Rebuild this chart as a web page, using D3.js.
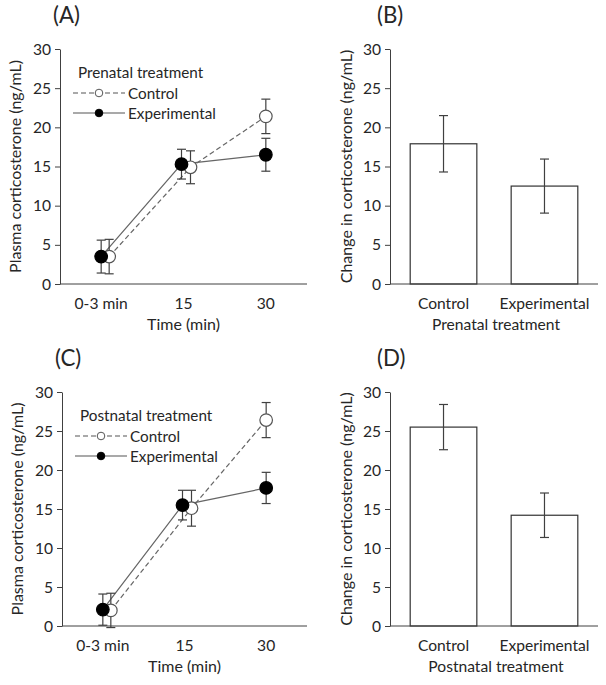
<!DOCTYPE html>
<html><head><meta charset="utf-8">
<script src="https://cdn.jsdelivr.net/npm/d3@7"></script>
<style>
html,body{margin:0;padding:0;background:#fff;}
svg text{font-family:Lato,"Open Sans",sans-serif;fill:#262626;}
</style></head>
<body>
<svg id="c" width="606" height="685"></svg>
<script>
// ---- data ----
const timeCategories = ["0-3 min", "15", "30"];
const prenatalControl = [3.5, 14.9, 21.4];
const prenatalControlErr = [2.2, 2.1, 2.2];
const prenatalExp = [3.5, 15.3, 16.5];
const prenatalExpErr = [2.1, 1.9, 2.1];
const postnatalControl = [2.0, 15.1, 26.4];
const postnatalControlErr = [2.2, 2.3, 2.25];
const postnatalExp = [2.1, 15.5, 17.7];
const postnatalExpErr = [2.0, 1.9, 2.0];
const groupCategories = ["Control", "Experimental"];
const prenatalChange = [17.9, 12.5];
const prenatalChangeErr = [3.6, 3.45];
const postnatalChange = [25.5, 14.2];
const postnatalChangeErr = [2.9, 2.85];
const yTicks = [0, 5, 10, 15, 20, 25, 30];

const svg = d3.select("#c");
const AX = "#404040";

function fitSize(str, target, base) {
  const t = svg.append("text").attr("font-size", base).text(str);
  const w = t.node().getComputedTextLength();
  t.remove();
  return base * target / w;
}
const fsLeg = fitSize("Experimental", 88, 14);
const fsTitle = fitSize("Plasma corticosterone (ng/mL)", 213, 14);
const fsCat = fitSize("Experimental", 90, 14);
const fsXT = fitSize("Time (min)", 73, 14);
const fsTick = fsCat;
const fsPanel = fitSize("(A)", 27, 18);

function yAxis(g, y) {
  const ax = g.append("g").attr("transform", `translate(${y.x0},0)`)
    .call(d3.axisLeft(y).tickValues(yTicks).tickSize(5).tickPadding(4).tickSizeOuter(0));
  ax.select(".domain").attr("stroke", AX);
  ax.selectAll(".tick line").attr("stroke", AX);
  ax.selectAll(".tick text").attr("font-size", fsTick).attr("fill", "#262626")
    .attr("font-family", "Lato,'Open Sans',sans-serif");
}

function linePanel(opt) {
  const g = svg.append("g");
  const x = d3.scaleBand().domain(timeCategories).range([opt.x0, opt.x1]);
  const y = d3.scaleLinear().domain([0, 30]).range([opt.yb, opt.yt]);
  y.x0 = opt.x0;
  yAxis(g, y);
  g.append("line").attr("x1", opt.x0).attr("x2", opt.x1).attr("y1", opt.yb).attr("y2", opt.yb).attr("stroke", AX);
  g.selectAll(".xl").data(timeCategories).join("text")
    .attr("x", d => x(d) + x.bandwidth() / 2).attr("y", opt.yb + 25)
    .attr("text-anchor", "middle").attr("font-size", fsTick).text(d => d);
  g.append("text").attr("x", x("15") + x.bandwidth() / 2).attr("y", opt.yb + 46)
    .attr("text-anchor", "middle").attr("font-size", fsXT).text("Time (min)");
  g.append("text").attr("transform", `translate(${opt.x0 - 46},${(opt.yb + opt.yt) / 2}) rotate(-90)`)
    .attr("text-anchor", "middle").attr("dominant-baseline", "central").attr("font-size", fsTitle)
    .text("Plasma corticosterone (ng/mL)");
  g.append("text").attr("x", opt.x0 - 7).attr("y", opt.yt - 26).attr("font-size", fsPanel).text(opt.label);

  const dodgeC = [8, 7, 0], dodgeE = [0, -2, 0];
  const cx = (i, d) => x(timeCategories[i]) + x.bandwidth() / 2 + d[i];
  const series = [
    {v: opt.ctrl, e: opt.ctrlErr, dodge: dodgeC, dash: "5,3", fill: "#fff"},
    {v: opt.exp, e: opt.expErr, dodge: dodgeE, dash: null, fill: "#000"}
  ];
  series.forEach(s => {
    const pts = s.v.map((v, i) => [cx(i, s.dodge), y(v)]);
    g.append("path").attr("d", d3.line()(pts)).attr("fill", "none").attr("stroke", "#666")
      .attr("stroke-width", 1.2).attr("stroke-dasharray", s.dash);
  });
  series.forEach(s => {
    s.v.forEach((v, i) => {
      const xx = cx(i, s.dodge), lo = y(v - s.e[i]), hi = y(v + s.e[i]);
      const eg = g.append("g").attr("stroke", AX).attr("stroke-width", 1.2);
      eg.append("line").attr("x1", xx).attr("x2", xx).attr("y1", lo).attr("y2", hi);
      eg.append("line").attr("x1", xx - 4.5).attr("x2", xx + 4.5).attr("y1", lo).attr("y2", lo);
      eg.append("line").attr("x1", xx - 4.5).attr("x2", xx + 4.5).attr("y1", hi).attr("y2", hi);
      g.append("circle").attr("cx", xx).attr("cy", y(v)).attr("r", 6.3)
        .attr("fill", s.fill).attr("stroke", s.fill === "#000" ? "#000" : "#555").attr("stroke-width", 1.2);
    });
  });
  // legend
  const lx = opt.x0 + 18, ly = opt.yt + 23;
  g.append("text").attr("x", lx).attr("y", ly).attr("dominant-baseline", "central")
    .attr("font-size", fsLeg).text(opt.legTitle);
  [["Control", "5,3", "#fff", 21], ["Experimental", null, "#000", 41]].forEach(([t, dash, fill, dy]) => {
    g.append("line").attr("x1", lx - 5).attr("x2", lx + 47).attr("y1", ly + dy).attr("y2", ly + dy)
      .attr("stroke", "#555").attr("stroke-width", 1.2).attr("stroke-dasharray", dash);
    g.append("circle").attr("cx", lx + 21).attr("cy", ly + dy).attr("r", 3.8)
      .attr("fill", fill).attr("stroke", fill === "#000" ? "#000" : "#555").attr("stroke-width", 1);
    g.append("text").attr("x", lx + 50).attr("y", ly + dy).attr("dominant-baseline", "central")
      .attr("font-size", fsLeg).text(t);
  });
}

function barPanel(opt) {
  const g = svg.append("g");
  const x = d3.scaleBand().domain(groupCategories).range([opt.x0, opt.x1]).paddingInner(0.34).paddingOuter(0.2);
  const y = d3.scaleLinear().domain([0, 30]).range([opt.yb, opt.yt]);
  y.x0 = opt.x0;
  g.selectAll("rect").data(opt.vals).join("rect")
    .attr("x", (d, i) => x(groupCategories[i])).attr("width", x.bandwidth())
    .attr("y", d => y(d)).attr("height", d => y(0) - y(d))
    .attr("fill", "#fff").attr("stroke", "#333").attr("stroke-width", 1.2);
  opt.vals.forEach((v, i) => {
    const xx = x(groupCategories[i]) + x.bandwidth() / 2, lo = y(v - opt.errs[i]), hi = y(v + opt.errs[i]);
    const eg = g.append("g").attr("stroke", AX).attr("stroke-width", 1.2);
    eg.append("line").attr("x1", xx).attr("x2", xx).attr("y1", lo).attr("y2", hi);
    eg.append("line").attr("x1", xx - 4.5).attr("x2", xx + 4.5).attr("y1", lo).attr("y2", lo);
    eg.append("line").attr("x1", xx - 4.5).attr("x2", xx + 4.5).attr("y1", hi).attr("y2", hi);
  });
  yAxis(g, y);
  g.append("line").attr("x1", opt.x0).attr("x2", opt.x1).attr("y1", opt.yb).attr("y2", opt.yb).attr("stroke", AX);
  g.selectAll(".xl").data(groupCategories).join("text")
    .attr("x", d => x(d) + x.bandwidth() / 2).attr("y", opt.yb + 25)
    .attr("text-anchor", "middle").attr("font-size", fsCat).text(d => d);
  g.append("text").attr("x", (opt.x0 + opt.x1) / 2 + 2).attr("y", opt.yb + 46)
    .attr("text-anchor", "middle").attr("font-size", fsCat).text(opt.xTitle);
  g.append("text").attr("transform", `translate(${opt.x0 - 45},${(opt.yb + opt.yt) / 2}) rotate(-90)`)
    .attr("text-anchor", "middle").attr("dominant-baseline", "central").attr("font-size", fsTitle)
    .text("Change in corticosterone (ng/mL)");
  g.append("text").attr("x", opt.x0 - 13).attr("y", opt.yt - 26).attr("font-size", fsPanel).text(opt.label);
}

linePanel({x0: 60, x1: 307, yb: 284, yt: 49, label: "(A)", legTitle: "Prenatal treatment",
  ctrl: prenatalControl, ctrlErr: prenatalControlErr, exp: prenatalExp, expErr: prenatalExpErr});
barPanel({x0: 390, x1: 598, yb: 284, yt: 49, label: "(B)", xTitle: "Prenatal treatment",
  vals: prenatalChange, errs: prenatalChangeErr});
linePanel({x0: 62, x1: 307, yb: 626, yt: 392, label: "(C)", legTitle: "Postnatal treatment",
  ctrl: postnatalControl, ctrlErr: postnatalControlErr, exp: postnatalExp, expErr: postnatalExpErr});
barPanel({x0: 390, x1: 598, yb: 626, yt: 392, label: "(D)", xTitle: "Postnatal treatment",
  vals: postnatalChange, errs: postnatalChangeErr});
</script>
</body></html>
